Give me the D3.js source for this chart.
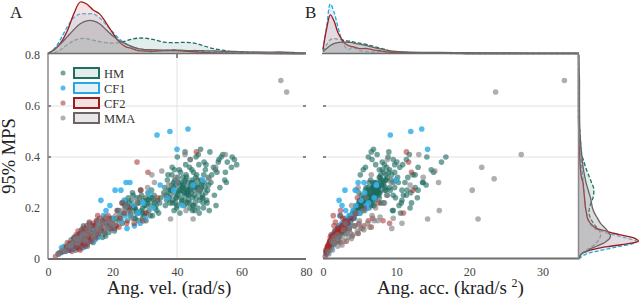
<!DOCTYPE html>
<html><head><meta charset="utf-8">
<script src="https://cdn.jsdelivr.net/npm/d3@7"></script>
<style>body{margin:0;background:#fff}svg{display:block}text{font-family:"Liberation Serif","DejaVu Serif",serif}</style>
</head><body><svg id="c" width="640" height="299"></svg>
<script>
// ---------------- DATA ----------------
const groups = ["HM", "CF1", "CF2", "MMA"];
const velTicks = [0, 20, 40, 60, 80];
const accTicks = [0, 10, 20, 30];
const mpsTicks = [0, 0.2, 0.4, 0.6, 0.8];
const mpsGrid = [0.4, 0.6];
const velGridLines = [40];

// points: [angular velocity (rad/s), angular acceleration (krad/s^2), 95% MPS]
const hmPoints = [
[3.2,.4,.02],[4.6,.7,.03],[5.8,.6,.04],[6.9,1.2,.05],[7.7,.9,.04],[8.4,1.5,.07],[9.3,1.1,.055],[10.2,1.9,.08],[11.4,1.4,.065],[12.6,2.3,.10],[13.1,1.6,.075],[14.3,2.7,.11],[15.7,2.0,.09],[16.2,3.1,.13],[17.6,2.4,.10],[18.3,3.5,.14],[19.4,2.8,.12],[20.1,3.3,.15],[5.1,1.0,.05],[6.3,.8,.035],[7.2,1.7,.075],[8.8,1.0,.045],[9.7,2.2,.09],[10.9,1.3,.06],[11.8,2.6,.11],[12.2,1.1,.05],[13.6,2.9,.12],[14.8,1.8,.08],[15.3,3.4,.14],[16.9,2.1,.085],[17.1,3.8,.15],[18.9,2.5,.105],[19.8,3.9,.16],[20.6,2.7,.11],[9.0,1.4,.08],[10.6,.9,.045],[11.1,1.7,.09],[12.9,2.0,.085],[14.0,1.4,.065],[8.1,2.0,.085],[4.0,.5,.025],[10.0,2.5,.10],[12.0,3.0,.12],[13.9,3.6,.13],[15.9,2.6,.12],[17.9,1.9,.09],[11.6,2.1,.07],[9.9,1.6,.065],[7.9,1.2,.055],[6.6,1.4,.06],[13.3,1.2,.09],[16.5,1.6,.11],[19.1,2.2,.13],[21.0,3.6,.13],[5.5,.9,.045],[10.4,2.9,.115],[12.4,1.9,.095],[8.6,.7,.035],[14.6,3.1,.10],[11.0,3.3,.13],
[22.4,3.6,.17],[27.8,5.2,.22],[25.1,4.4,.19],[31.6,6.3,.24],[29.3,3.9,.16],[23.7,5.0,.21],[33.2,5.6,.20],[26.4,6.1,.25],[30.1,4.6,.18],[24.6,3.4,.15],[28.7,6.8,.27],[32.4,4.2,.17],[21.8,4.2,.19],[27.1,3.7,.16],[34.0,7.1,.23],[25.8,5.7,.23],[29.9,5.4,.21],[23.0,3.0,.14],[31.0,7.4,.26],[26.9,4.8,.20],[33.7,4.9,.19],[28.2,4.3,.18],[24.2,4.7,.20],[30.7,6.0,.23],[22.9,5.5,.22],[32.9,6.6,.25],[27.4,6.4,.24],[25.5,3.8,.17],[29.0,7.2,.25],[31.9,5.1,.21],[26.1,5.3,.21],[34.6,5.8,.22],[23.4,4.1,.18],[28.9,4.9,.19],[30.4,3.8,.15],[24.9,6.0,.24],[32.1,7.9,.27],[27.5,4.1,.18],[29.6,6.1,.23],[25.2,5.0,.22],[33.5,6.9,.21],[22.0,3.1,.15],[31.3,4.6,.19],[26.7,3.5,.16],[28.4,5.8,.24],[30.9,5.5,.22],[23.9,6.3,.23],[34.3,4.7,.18],[27.0,5.9,.20],[29.4,4.5,.20],[32.7,5.3,.23],[24.4,5.4,.21],[26.2,7.0,.26],[30.3,7.7,.24],[28.0,3.3,.15],[33.0,8.3,.22],[25.7,4.6,.18],[31.7,3.9,.17],[21.2,3.8,.16],[35.0,6.4,.24],
[26.3,5.6,.20],[28.3,6.5,.22],[30.5,6.6,.21],[27.3,4.6,.19],[29.2,5.1,.18],[31.2,6.8,.23],[25.0,4.9,.205],[32.3,7.1,.24],[24.0,5.8,.22],[29.8,4.3,.17],
[38.2,6.1,.27],[44.7,7.9,.31],[41.3,5.2,.22],[47.9,8.8,.25],[36.4,4.6,.21],[42.8,9.4,.33],[45.5,5.7,.19],[39.6,7.3,.29],[49.2,6.4,.23],[43.1,4.9,.26],[40.7,8.1,.35],[46.3,6.9,.28],[37.5,5.5,.24],[48.6,10.3,.30],[35.9,7.0,.26],[44.0,6.3,.20],[41.9,7.7,.32],[39.1,4.4,.19],[46.8,8.4,.37],[43.6,5.9,.23],[38.9,6.8,.30],[47.2,7.2,.27],[42.3,4.8,.21],[45.1,9.8,.34],[40.2,6.0,.25],[49.8,8.0,.29],[37.0,6.5,.31],[44.4,7.5,.26],[41.6,6.7,.28],[48.1,5.8,.22],[36.8,5.0,.23],[43.9,8.7,.36],[39.9,5.6,.20],[46.0,6.2,.24],[42.0,7.0,.29],[38.4,7.9,.33],[45.8,7.8,.32],[40.9,4.7,.18],[47.6,9.1,.28],[43.3,6.5,.27],[39.4,6.4,.26],[44.9,5.4,.21],[41.1,9.0,.34],[48.9,7.4,.26],[37.8,4.9,.22],[46.5,5.1,.20],[42.6,8.2,.31],[40.4,7.1,.30],[45.3,6.6,.25],[38.0,5.3,.25],[43.4,7.3,.30],[47.0,6.0,.23],[41.4,5.8,.24],[44.6,9.1,.35],[39.3,8.6,.31],[46.2,7.0,.29],[42.2,6.1,.26],[48.3,8.6,.33],[36.2,6.2,.28],[45.0,8.3,.30],[40.0,5.1,.21],[43.8,5.3,.22],[47.4,10.0,.31],[41.8,8.5,.28],[38.7,6.3,.23],[44.2,6.8,.28],[49.5,9.2,.27],[42.9,7.6,.25],[40.6,6.9,.27],[46.7,7.6,.26],[39.0,7.6,.28],[45.6,6.1,.22],[43.0,10.2,.32],[37.3,5.8,.27],[48.0,6.7,.24],[41.0,7.4,.29],[44.3,8.0,.29],[47.8,7.9,.30],[42.4,5.5,.23],[40.3,8.8,.32],
[39.8,6.6,.24],[41.7,7.2,.27],[43.5,6.9,.25],[45.7,7.5,.28],[47.5,8.3,.29],[42.9,5.9,.28],[40.5,7.8,.26],[44.0,8.5,.27],[46.4,9.3,.31],[38.3,7.1,.29],[42.2,9.6,.30],[44.8,6.4,.24],[41.2,6.3,.30],[43.1,7.9,.22],[45.1,7.0,.21],[47.1,8.6,.27],[39.5,5.9,.22],[48.7,9.8,.28],[36.6,6.8,.25],[37.9,7.4,.27],
[44.1,6.7,.39],[46.6,7.4,.41],[48.4,8.1,.38],[50.2,9.0,.42],[42.7,7.2,.37],[45.9,8.9,.40],[51.3,10.5,.36],[47.3,6.9,.43],[53.0,9.6,.39],[49.0,10.9,.37],[52.4,8.3,.34],[54.2,11.8,.41],[50.8,12.6,.33],[55.6,10.1,.38],[56.9,13.0,.36],[53.7,14.2,.40],[57.8,11.4,.39],[51.9,7.7,.35],[49.7,11.6,.32],[55.0,15.1,.34],[58.5,9.8,.37],[52.8,16.2,.38],[50.5,13.7,.30],[54.8,8.6,.31],[48.8,14.8,.35],[46.1,12.3,.33],[44.5,11.2,.30],[43.2,13.0,.27],[47.7,12.9,.24],[45.2,14.1,.29],[51.6,11.0,.25],[49.3,12.1,.22],[53.3,12.6,.28],[50.0,9.5,.19],[52.1,10.4,.21],[48.2,11.9,.20],[46.9,10.6,.18],[44.8,9.6,.19],[55.3,13.6,.30],[57.1,16.8,.40],[41.5,10.8,.23],[39.7,9.9,.24],[42.1,12.0,.26],[38.6,10.7,.22],[40.8,11.5,.27],[43.7,11.4,.25],[45.4,10.8,.27],[36.9,9.6,.25],
[38.5,5.8,.36],[40.1,6.2,.40],[42.5,6.6,.42],[37.2,5.1,.33],[39.2,5.5,.35]
];
const cf1Points = [
[3.4,.5,.02],[4.8,.8,.035],[6.1,1.1,.04],[7.3,.7,.05],[8.2,1.3,.065],[9.6,.9,.05],[10.3,1.5,.075],[11.2,1.2,.06],[12.7,1.7,.09],[13.4,1.0,.07],[14.9,1.9,.10],[15.6,1.4,.085],[6.8,1.5,.06],[8.9,1.8,.08],[10.8,1.0,.055],[11.9,2.1,.10],[13.0,1.3,.085],[9.2,1.2,.07],[10.9,1.6,.09],[12.3,.9,.065],[7.9,1.0,.045],[5.6,.6,.03],[14.2,2.4,.12],[16.7,1.8,.11],[17.8,2.6,.14],[18.6,2.0,.12],[19.9,3.0,.16],[11.5,2.5,.115],[12.1,1.4,.08],[10.1,2.0,.095],[8.6,1.6,.085],[13.8,2.9,.13],[15.2,3.3,.15],[16.1,2.2,.13],[9.8,1.4,.10],[4.2,.9,.045],[7.0,.9,.035],[11.0,.8,.045],[12.8,2.7,.14],[14.5,1.2,.075],[17.2,3.6,.17],[20.5,2.4,.12],[21.6,4.1,.19],[19.2,4.5,.21],[22.8,3.2,.15],[23.6,5.2,.23],[25.7,4.0,.17],[26.8,2.9,.13],[24.5,3.6,.12],[18.0,3.1,.19],
[16.4,2.2,.23],[20.8,3.0,.27],[22.6,4.4,.27],[24.2,4.8,.30],[25.4,5.6,.30],[27.9,5.0,.18],[29.5,6.2,.22],[31.4,5.7,.26],[28.6,3.7,.14],[34.8,7.3,.29],[30.2,4.3,.16],[32.6,6.0,.20],[36.9,7.0,.24],[48.0,10.0,.31],[45.0,7.3,.29],[33.8,9.2,.486],[37.8,12.0,.50],[43.4,13.5,.51],[40.0,14.3,.43],[39.0,4.6,.27],[41.6,5.9,.21],[26.2,2.6,.21],[23.9,2.3,.17]
];
const cf2Points = [
[2.3,.3,.01],[3.6,.6,.025],[4.9,.4,.03],[5.7,.9,.045],[6.4,.7,.035],[7.1,1.2,.06],[7.8,.8,.05],[8.3,1.0,.07],[8.9,.6,.045],[9.4,1.3,.08],[9.9,.9,.06],[10.4,1.1,.075],[10.8,.7,.055],[11.3,1.4,.09],[11.7,1.0,.07],[12.2,.8,.06],[12.6,1.5,.085],[13.2,1.2,.08],[13.7,1.8,.10],[14.4,1.3,.09],[15.1,2.0,.11],[15.8,1.6,.10],[16.6,2.2,.12],[17.4,1.7,.11],[18.2,2.6,.13],[19.5,2.0,.12],[8.0,1.5,.08],[9.1,1.8,.09],[10.2,2.0,.10],[11.1,2.3,.11],[12.0,2.6,.13],[13.0,2.2,.12],[14.0,2.9,.14],[15.0,3.3,.15],[16.0,2.7,.16],[7.4,.5,.03],[9.6,.6,.04],[10.7,1.6,.065],[12.4,1.1,.095],[13.5,.9,.07],[11.9,1.9,.105],[6.0,1.4,.065],[8.7,2.3,.095],[14.8,1.0,.085],[10.0,.4,.035],[11.5,.6,.05],[13.9,1.5,.13],[12.8,1.7,.145],[15.4,2.4,.17],[16.9,3.4,.14],[17.7,4.2,.16],[18.8,3.0,.15],[19.9,4.9,.14],[21.3,5.6,.13],[9.3,2.7,.11],[10.9,3.1,.12],[12.3,3.6,.115],[14.6,4.3,.13],[16.3,5.2,.12],[13.3,4.8,.10],[11.6,4.0,.09],[8.4,3.2,.07],[7.6,2.4,.065],[17.0,6.2,.15],[19.0,6.8,.16],[20.7,2.9,.12],[22.4,3.8,.16],[23.8,4.4,.18],[25.3,5.6,.2],[22.0,6.6,.125],[26.7,3.4,.14],
[46.0,11.4,.42],[27.6,11.7,.38],[31.0,12.1,.34],[28.8,12.3,.27],[29.4,8.2,.15],[24.4,9.1,.14],[30.5,11.0,.18],[34.0,4.7,.24],[21.4,2.4,.19],[18.6,1.4,.17],[23.1,7.6,.22]
];
const mmaPoints = [
[3.1,.8,.02],[4.4,1.3,.035],[5.3,.7,.03],[6.2,2.0,.05],[7.5,1.6,.06],[8.1,2.9,.07],[9.0,2.3,.08],[9.7,3.5,.085],[10.5,1.8,.075],[11.2,4.1,.095],[11.9,2.7,.09],[12.5,3.3,.10],[13.3,4.7,.11],[13.8,2.0,.095],[14.6,3.8,.10],[15.2,5.4,.12],[15.9,2.8,.115],[16.7,4.4,.13],[17.5,6.1,.14],[18.4,3.6,.12],[19.1,5.0,.15],[20.3,4.2,.13],[21.0,6.7,.17],[12.1,5.6,.115],[10.9,4.8,.10],[9.4,1.4,.065],[13.0,6.4,.125],[14.2,1.5,.085],[16.1,7.0,.15],[8.6,3.9,.08],[11.6,1.2,.07],[17.9,7.8,.165],[19.7,3.1,.14],[7.1,2.6,.055],[15.5,4.9,.135],[22.5,5.5,.19],[23.9,7.2,.20],[25.6,4.6,.18],[27.3,8.4,.22],[29.8,7.5,.15],[26.1,9.6,.16],[24.3,3.9,.21],[28.4,5.9,.24],[30.9,4.8,.28],
[33.0,15.8,.30],[35.3,15.3,.345],[42.5,13.1,.41],[42.8,15.9,.19],[38.0,14.3,.157],[45.0,21.2,.157],[47.0,20.4,.27],[50.0,23.4,.315],[52.0,21.7,.36],[55.0,27.1,.41],[40.2,9.3,.30],[36.1,8.7,.25],[44.1,8.8,.39],[37.4,11.9,.29],[39.6,13.7,.32],[18.0,9.4,.12],[20.8,10.8,.14],[32.2,6.6,.33],
[72.2,33.0,.70],[74.0,23.6,.655]
];

// marginal density curves (relative density heights)
const velGrid = [0,2,4,6,8,10,12,14,16,18,20,22,24,26,28,30,32,34,36,38,40,42,44,46,48,50,52,54,56,58,60,64,68,72,76,80];
const velDensHM  = [0,1,4,9,13,15,15,13.5,12,11,10.5,11,12.5,14.5,15.5,15.5,14.5,13,11.5,11,11,11.2,11,10,8,6,4.5,3.5,2.5,1.8,1.2,0.5,0.2,0.1,0,0];
const velDensCF1 = [0,5,15,27,36,40,40,40,36,29,22,15,10,7,5,4,3.5,3,3,3,3,2.5,2.5,2,2,1.5,1.2,1,0.8,0.5,0.4,0.2,0.1,0,0,0];
const velDensCF2 = [0,4,11,23,40,52,50,44,40,31,21,12,7,5,3,2.5,2,2.5,3,3,3,2.5,2,1.5,1,0.8,0.5,0.4,0.3,0.2,0.2,0.1,0,0,0,0];
const velDensMMA = [0,4,10,17,24,30,33,33,30,24,18,13,10,7,5,4,3.8,3.6,3.5,3.5,3.5,3.2,3,3,2.8,2.6,2.5,2.2,2,2,1.8,1.5,1.4,1.5,1,0.3];

const accGrid = [0,0.5,1,1.5,2,2.5,3,3.5,4,4.5,5,6,7,8,9,10,12,14,16,18,20,22,24,26,28,30,32,34,35];
const accDensHM  = [2,9,14,15,14.5,14,13,12.5,12,11,10.5,9,7,5,3,1.5,0.7,0.4,0.3,0.1,0,0,0,0,0,0,0,0,0];
const accDensCF1 = [4,27,50,42,28,15,7,4,6,5,3,2,1.5,2,1,0.8,0.4,0.2,0.1,0,0,0,0,0,0,0,0,0,0];
const accDensCF2 = [4,25,39,33,22,15,10,8,7,6,5,5,3.5,2.5,1.5,1,0.5,0.3,0.2,0.1,0,0,0,0,0,0,0,0,0];
const accDensMMA = [2,5,8,10,11,11.5,11.5,11.2,11,10,9.5,8,6,4.5,3,2,1.3,1.1,1,0.9,0.8,0.7,0.6,0.5,0.4,0.4,0.35,0.3,0];

const mpsDensGrid = [0,0.02,0.03,0.04,0.05,0.06,0.07,0.08,0.09,0.10,0.11,0.12,0.14,0.16,0.18,0.20,0.22,0.24,0.26,0.28,0.30,0.32,0.35,0.38,0.42,0.46,0.50,0.55,0.60,0.65,0.70,0.75,0.80];
const mpsDensHM  = [0,3,6,10,14,17,19.5,21,22,22,21,19,15,12,10.5,11,12.5,14.5,15.3,15,13,11,8,5.5,2.5,1,0.4,0,0,0,0,0,0];
const mpsDensCF1 = [0,8,18,30,42,54,58,50,40,30,22,16,11,9,8,7,6.5,6,5.5,5,4.8,4.3,3.5,3,2.5,2.2,1.5,0.5,0.1,0,0,0,0];
const mpsDensCF2 = [0,3,8,17,32,50,60,57,48,36,27,18,12,9,8,7,6.5,6,5.5,5,4.5,3,2,1.5,1,0.5,0.2,0,0,0,0,0,0];
const mpsDensMMA = [0,3,8,12,18,24,28,31,32,31,29,27,22,19,16,14,13,12,10.5,9,7.5,6.5,5,4,3,2,1.4,1.1,1,1,1,0.6,0.3];

// ---------------- STYLE ----------------
const lineCol  = {HM:"#1e6e62", CF1:"#2aa7e1", CF2:"#9e1b1b", MMA:"#6a6464"};
const areaCol  = {HM:"#a9cfc8", CF1:"#a6d8f1", CF2:"#e7b3b3", MMA:"#9a9a9a"};
const ptCol    = {HM:"#1d6b5f", CF1:"#35b0ea", CF2:"#a32a2a", MMA:"#7a7a7a"};
const ptOp     = {HM:0.62, CF1:0.85, CF2:0.55, MMA:0.6};
const dash     = {HM:"4,2", CF1:"4,2", CF2:null, MMA:null};
const legFill  = {HM:"#e3ecea", CF1:"#e6f2f8", CF2:"#f3e2e2", MMA:"#e8e6e6"};

const points = {HM:hmPoints, CF1:cf1Points, CF2:cf2Points, MMA:mmaPoints};
const velDens = {HM:velDensHM, CF1:velDensCF1, CF2:velDensCF2, MMA:velDensMMA};
const accDens = {HM:accDensHM, CF1:accDensCF1, CF2:accDensCF2, MMA:accDensMMA};
const mpsDens = {HM:mpsDensHM, CF1:mpsDensCF1, CF2:mpsDensCF2, MMA:mpsDensMMA};

const svg = d3.select("#c");
const xA = d3.scaleLinear().domain([0,80]).range([48,306]);
const xB = d3.scaleLinear().domain([0,35]).range([323,579]);
const y  = d3.scaleLinear().domain([0,0.8]).range([259,55]);
const hTop = d3.scaleLinear().domain([0,54]).range([53.5,0]);
const wRight = d3.scaleLinear().domain([0,62]).range([578.5,640.5]);

// grid lines
const grid = svg.append("g").attr("stroke","#e2e2e2").attr("stroke-width",1);
[[48,306],[323,578]].forEach(([x0,x1])=>{
  mpsGrid.forEach(v=>grid.append("line").attr("x1",x0).attr("x2",x1).attr("y1",y(v)).attr("y2",y(v)));
});
velGridLines.forEach(v=>grid.append("line").attr("x1",xA(v)).attr("x2",xA(v)).attr("y1",55).attr("y2",259));
const tk = svg.append("g").attr("stroke","#444").attr("stroke-width",1.2);
mpsGrid.forEach(v=>{
  [[48,51],[303,306],[323,326]].forEach(([a,b])=>tk.append("line").attr("x1",a).attr("x2",b).attr("y1",y(v)).attr("y2",y(v)));
});
tk.append("line").attr("x1",xA(40)).attr("x2",xA(40)).attr("y1",54).attr("y2",58);
tk.append("line").attr("x1",578.5).attr("x2",578.5).attr("y1",54).attr("y2",58);

// scatter
function scatter(sx, idx){
  const g = svg.append("g");
  groups.forEach(k=>{
    g.append("g").selectAll("circle").data(points[k]).join("circle")
      .attr("cx",d=>sx(d[idx])).attr("cy",d=>y(d[2])).attr("r",2.8)
      .attr("fill",ptCol[k]).attr("fill-opacity",ptOp[k]);
  });
}
scatter(xA,0);
scatter(xB,1);

// top marginals
const crv = d3.curveCatmullRom.alpha(0.5);
function topMarg(sx, grd, dens){
  const g = svg.append("g");
  groups.forEach(k=>{
    const data = grd.map((v,i)=>[v,dens[k][i]]);
    const area = d3.area().x(d=>sx(d[0])).y0(hTop(0)).y1(d=>hTop(d[1])).curve(crv);
    const line = d3.line().x(d=>sx(d[0])).y(d=>hTop(d[1])).curve(crv);
    g.append("path").attr("d",area(data)).attr("fill",areaCol[k]).attr("fill-opacity",0.35);
    g.append("path").attr("d",line(data)).attr("fill","none").attr("stroke",lineCol[k]).attr("stroke-width",1.3).attr("stroke-dasharray",dash[k]);
  });
}
topMarg(xA, velGrid, velDens);
topMarg(xB, accGrid, accDens);

// right marginal
(function(){
  const g = svg.append("g");
  groups.forEach(k=>{
    const data = mpsDensGrid.map((v,i)=>[v,mpsDens[k][i]]);
    const area = d3.area().y(d=>y(d[0])).x0(wRight(0)).x1(d=>wRight(d[1])).curve(crv);
    const line = d3.line().y(d=>y(d[0])).x(d=>wRight(d[1])).curve(crv);
    g.append("path").attr("d",area(data)).attr("fill",areaCol[k]).attr("fill-opacity",0.35);
    g.append("path").attr("d",line(data)).attr("fill","none").attr("stroke",lineCol[k]).attr("stroke-width",1.3).attr("stroke-dasharray",dash[k]);
  });
})();

// axis lines
const ax = svg.append("g").attr("fill","none");
ax.append("line").attr("x1",48).attr("x2",48).attr("y1",52.5).attr("y2",259).attr("stroke","#8a8a8a").attr("stroke-width",1.5);
ax.append("line").attr("x1",48).attr("x2",306).attr("y1",259).attr("y2",259).attr("stroke","#6e6e6e").attr("stroke-width",2);
ax.append("line").attr("x1",323).attr("x2",579).attr("y1",258.5).attr("y2",258.5).attr("stroke","#6e6e6e").attr("stroke-width",2);
ax.append("line").attr("x1",48).attr("x2",306).attr("y1",53.5).attr("y2",53.5).attr("stroke","#6e6e6e").attr("stroke-width",1.3);
ax.append("line").attr("x1",322).attr("x2",579).attr("y1",53.5).attr("y2",53.5).attr("stroke","#6e6e6e").attr("stroke-width",1.3);
ax.append("line").attr("x1",578.5).attr("x2",578.5).attr("y1",54).attr("y2",259).attr("stroke","#8a8a8a").attr("stroke-width",1.5);

// tick labels via d3 axes
function styleAxis(g){ g.select(".domain").remove(); g.selectAll("text").attr("font-family","Liberation Serif").attr("font-size",12).attr("fill","#444"); }
svg.append("g").attr("transform","translate(0,259)").call(d3.axisBottom(xA).tickValues(velTicks).tickSize(0).tickPadding(8)).call(styleAxis);
svg.append("g").attr("transform","translate(0,259)").call(d3.axisBottom(xB).tickValues(accTicks).tickSize(0).tickPadding(8)).call(styleAxis);
svg.append("g").attr("transform","translate(48,0)").call(d3.axisLeft(y).tickValues(mpsTicks).tickSize(0).tickPadding(8).tickFormat(d=>d===0?"0":d3.format(".1f")(d))).call(styleAxis);

// titles
svg.append("text").attr("x",169).attr("y",294).attr("text-anchor","middle").attr("font-size",19).attr("fill","#222").text("Ang. vel. (rad/s)");
const tB = svg.append("text").attr("x",450.5).attr("y",294).attr("text-anchor","middle").attr("font-size",19).attr("fill","#222");
tB.append("tspan").text("Ang. acc. (krad/s ");
tB.append("tspan").attr("font-size",12).attr("dy",-7).text("2");
tB.append("tspan").attr("dy",7).text(")");
svg.append("text").attr("transform","translate(15,156) rotate(-90)").attr("text-anchor","middle").attr("font-size",18.5).attr("fill","#222").text("95% MPS");
svg.append("text").attr("x",10).attr("y",18).attr("font-size",17).attr("fill","#222").text("A");
svg.append("text").attr("x",305).attr("y",18).attr("font-size",17).attr("fill","#222").text("B");

// legend
const lg = svg.append("g");
groups.forEach((k,i)=>{
  const cy = 73 + i*15;
  lg.append("circle").attr("cx",63).attr("cy",cy).attr("r",2.5).attr("fill",ptCol[k]).attr("fill-opacity",ptOp[k]);
  lg.append("rect").attr("x",74).attr("y",cy-5).attr("width",25).attr("height",10).attr("fill",legFill[k]).attr("stroke",lineCol[k]).attr("stroke-width",2);
  lg.append("text").attr("x",104).attr("y",cy+4.5).attr("font-size",12.5).attr("fill","#333").text(k);
});
</script></body></html>
